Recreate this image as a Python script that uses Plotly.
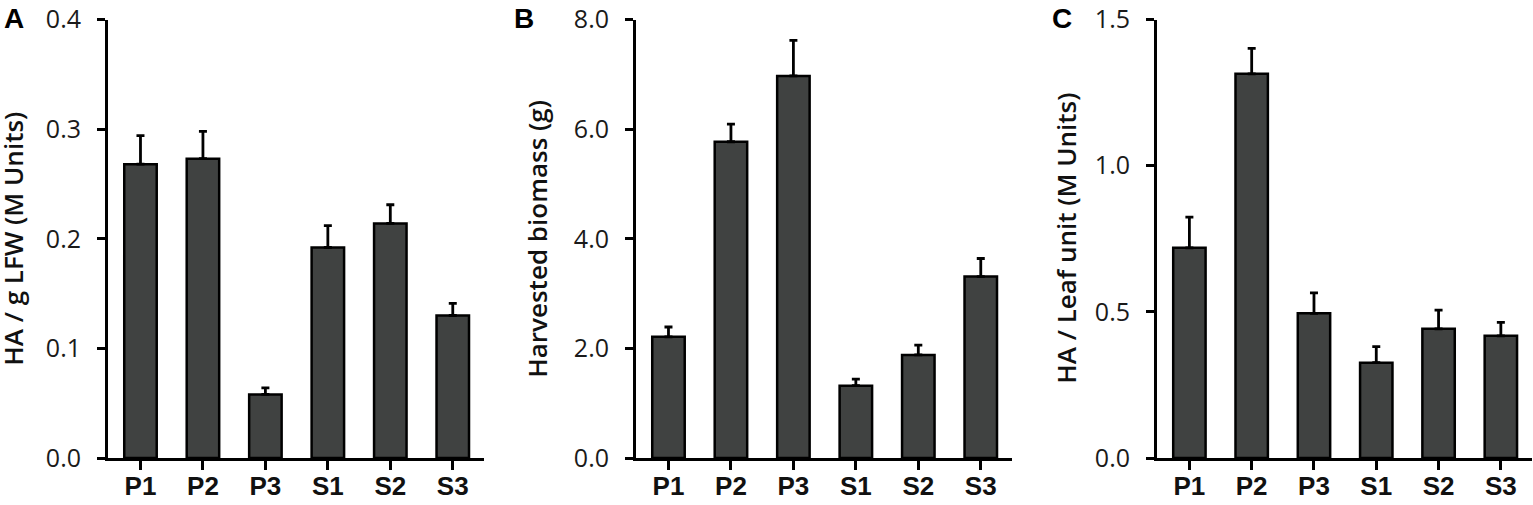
import plotly.graph_objects as go

W, H = 1533, 505

groups = ["P1", "P2", "P3", "S1", "S2", "S3"]

# panel A: HA per g leaf fresh weight
ha_per_lfw = [0.268, 0.273, 0.058, 0.192, 0.214, 0.130]
ha_per_lfw_err = [0.026, 0.025, 0.006, 0.020, 0.017, 0.011]

# panel B: harvested biomass
biomass = [2.21, 5.77, 6.97, 1.32, 1.88, 3.31]
biomass_err = [0.18, 0.32, 0.65, 0.12, 0.18, 0.33]

# panel C: HA per leaf unit
ha_per_leaf = [0.719, 1.314, 0.495, 0.326, 0.442, 0.418]
ha_per_leaf_err = [0.105, 0.087, 0.070, 0.055, 0.064, 0.046]

panels = [
    {"y": ha_per_lfw, "err": ha_per_lfw_err, "ymax": 0.4, "dtick": 0.1,
     "title": "HA / g LFW (M Units)", "letter": "A",
     "x0": 108, "x1": 484, "title_x": 13, "letter_x": 2},
    {"y": biomass, "err": biomass_err, "ymax": 8.0, "dtick": 2.0,
     "title": "Harvested biomass (g)", "letter": "B",
     "x0": 636, "x1": 1012, "title_x": 537, "letter_x": 512},
    {"y": ha_per_leaf, "err": ha_per_leaf_err, "ymax": 1.5, "dtick": 0.5,
     "title": "HA / Leaf unit (M Units)", "letter": "C",
     "x0": 1157, "x1": 1532, "title_x": 1066, "letter_x": 1050},
]


def px_x(v):
    return v / W


def px_y(v):
    return 1 - v / H


Y_TOP, Y_BOT = 19.5, 458
BAR_COLOR = "#404241"
NUM_FONT = dict(family="Open Sans", size=25, color="#1a1a1a")
CAT_FONT = dict(family="Liberation Sans", size=26, color="#111111", weight="bold")
TITLE_FONT = dict(family="Open Sans", size=26, color="#111111", weight=600)

fig = go.Figure()
annotations = []
layout = {}

for i, p in enumerate(panels, start=1):
    suffix = "" if i == 1 else str(i)
    fig.add_trace(
        go.Bar(
            x=groups,
            y=p["y"],
            xaxis=f"x{suffix}",
            yaxis=f"y{suffix}",
            marker={"color": BAR_COLOR, "line": {"color": "#000000", "width": 2.5}},
            error_y={
                "type": "data",
                "symmetric": False,
                "array": p["err"],
                "arrayminus": [0] * len(p["err"]),
                "color": "#000000",
                "thickness": 2.8,
                "width": 4,
            },
            showlegend=False,
        )
    )

    layout[f"xaxis{suffix}"] = dict(
        domain=[px_x(p["x0"]), min(px_x(p["x1"]), 1.0)],
        anchor=f"y{suffix}",
        range=[-0.52, 5.5],
        automargin=False,
        showline=True,
        linecolor="#000000",
        linewidth=3,
        ticks="outside",
        ticklen=9,
        tickwidth=3,
        tickcolor="#000000",
        tickfont=CAT_FONT,
        ticklabelstandoff=-6,
        showgrid=False,
        zeroline=False,
        fixedrange=True,
    )
    layout[f"yaxis{suffix}"] = dict(
        domain=[px_y(Y_BOT), px_y(Y_TOP)],
        anchor=f"x{suffix}",
        range=[0, p["ymax"]],
        dtick=p["dtick"],
        tick0=0,
        tickformat=".1f",
        automargin=False,
        ticklabeloverflow="allow",
        showline=True,
        linecolor="#000000",
        linewidth=3,
        ticks="outside",
        ticklen=8,
        tickwidth=3,
        tickcolor="#000000",
        tickfont=NUM_FONT,
        ticklabelstandoff=11,
        showgrid=False,
        zeroline=False,
        fixedrange=True,
    )

    annotations.append(
        dict(
            text=p["title"], textangle=-90, showarrow=False,
            xref="paper", yref="paper",
            x=px_x(p["title_x"]), y=px_y((Y_TOP + Y_BOT) / 2),
            xanchor="center", yanchor="middle",
            font=TITLE_FONT,
        )
    )
    annotations.append(
        dict(
            text=f"<b>{p['letter']}</b>", showarrow=False,
            xref="paper", yref="paper",
            x=px_x(p["letter_x"]), y=px_y(18),
            xanchor="left", yanchor="middle",
            font=dict(family="Liberation Sans", size=28, color="#000000"),
        )
    )

fig.update_layout(
    width=W,
    height=H,
    margin=dict(l=0, r=0, t=0, b=0),
    paper_bgcolor="#ffffff",
    plot_bgcolor="#ffffff",
    bargap=0.48,
    annotations=annotations,
    **layout,
)

# drop the default page margin so the figure sits flush in the window
fig.write_html(
    "out.html",
    config={"displayModeBar": False},
    post_script="document.body.style.margin = '0px';",
)
